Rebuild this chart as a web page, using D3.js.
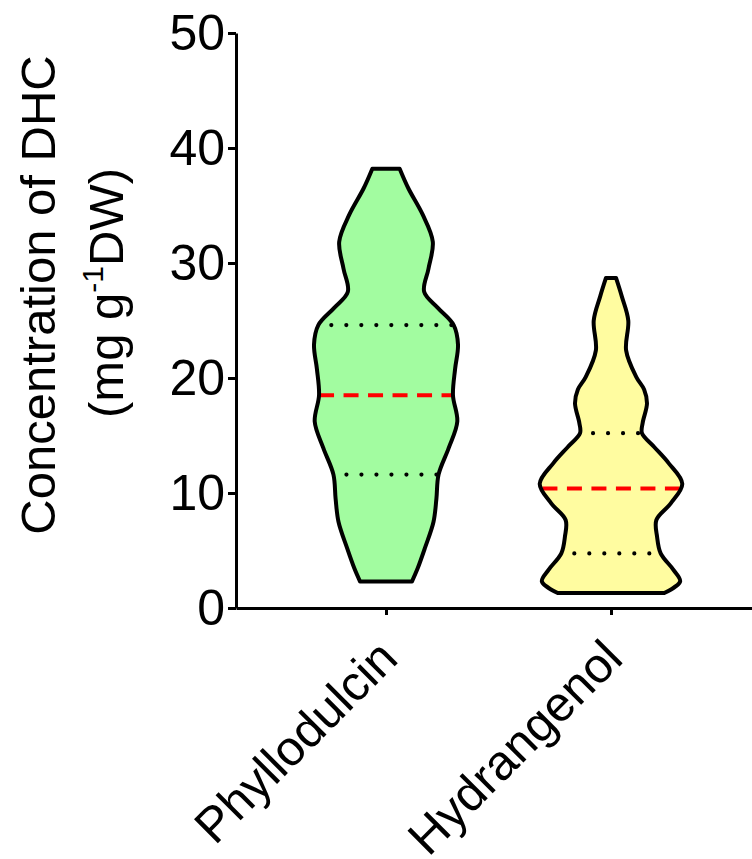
<!DOCTYPE html>
<html>
<head>
<meta charset="utf-8">
<script src="https://cdn.jsdelivr.net/npm/d3@7"></script>
<style>
  html, body { margin: 0; padding: 0; background: #fff; }
  svg { display: block; }
  text { font-family: "Liberation Sans", Arial, Helvetica, sans-serif; fill: #000; }
</style>
</head>
<body>
<svg id="chart" width="752" height="859"></svg>
<script>
// Categories and their fill colours
const categories = ["Phyllodulcin", "Hydrangenol"];
const fills = ["#a2fca0", "#fffca0"];

// Kernel density profiles (relative width) along concentration (mg g-1 DW)
const phylloValues  = [2.3, 3.45, 5.2, 7.5, 9.5, 11.6, 13.9, 16.2, 18.5, 20.8, 22.9, 24.6, 26.1, 27.5, 29.5, 31.85, 34.2, 36.5, 38.2];
const phylloDensity = [0.36, 0.44, 0.54, 0.66, 0.70, 0.73, 0.87, 0.99, 0.93, 0.96, 1.00, 0.94, 0.72, 0.53, 0.59, 0.65, 0.51, 0.31, 0.19];

const hydraValues  = [1.3, 2.3, 3.3, 4.75, 6.2, 7.65, 9.1, 10.8, 12.6, 14.0, 15.2, 16.1, 17.8, 19.0, 20.1, 22.4, 25.0, 27.1, 28.7];
const hydraDensity = [0.74, 0.96, 0.87, 0.69, 0.64, 0.63, 0.83, 0.99, 0.80, 0.60, 0.43, 0.44, 0.50, 0.46, 0.35, 0.21, 0.24, 0.15, 0.07];

// Quartiles per category
const q1Values     = [11.6, 4.75];
const medianValues = [18.5, 10.4];
const q3Values     = [24.6, 15.2];

// Axis ticks
const yTicks = [0, 10, 20, 30, 40, 50];

const profiles = [
  { values: phylloValues, density: phylloDensity },
  { values: hydraValues, density: hydraDensity }
];

const svg = d3.select("#chart");

const y = d3.scaleLinear().domain([0, 50]).range([608, 33]);
const x = d3.scalePoint().domain(categories).range([236, 761]).padding(0.6667);
const w = d3.scaleLinear().domain([0, 1]).range([0, 72]);

// Linear lookup of the profile width at a given concentration
function widthAt(p, v) {
  const i = d3.bisectLeft(p.values, v);
  if (i <= 0) return p.density[0];
  if (i >= p.values.length) return p.density[p.values.length - 1];
  const t = (v - p.values[i - 1]) / (p.values[i] - p.values[i - 1]);
  return p.density[i - 1] + t * (p.density[i] - p.density[i - 1]);
}

// Violins
categories.forEach((cat, ci) => {
  const p = profiles[ci];
  const cx = x(cat);
  const pts = p.values.map((v, i) => ({ v, d: p.density[i] }));
  const area = d3.area()
    .y(d => y(d.v))
    .x0(d => cx - w(d.d))
    .x1(d => cx + w(d.d))
    .curve(d3.curveCatmullRom.alpha(0.5));

  const g = svg.append("g");
  g.append("path")
    .attr("d", area(pts))
    .attr("fill", fills[ci]);

  // median: red dashed
  const hm = w(widthAt(p, medianValues[ci]));
  g.append("line")
    .attr("x1", cx - hm).attr("x2", cx + hm)
    .attr("y1", y(medianValues[ci])).attr("y2", y(medianValues[ci]))
    .attr("stroke", "#ff0000").attr("stroke-width", 4)
    .attr("stroke-dasharray", "15 9.5");

  // quartiles: black dotted
  [q1Values[ci], q3Values[ci]].forEach(q => {
    const hq = w(widthAt(p, q));
    g.append("line")
      .attr("x1", cx - hq + 13).attr("x2", cx + hq - 1)
      .attr("y1", y(q)).attr("y2", y(q))
      .attr("stroke", "#000").attr("stroke-width", 4.2)
      .attr("stroke-linecap", "round")
      .attr("stroke-dasharray", "0 15");
  });

  g.append("path")
    .attr("d", area(pts))
    .attr("fill", "none")
    .attr("stroke", "#000")
    .attr("stroke-width", 4)
    .attr("stroke-linejoin", "round");
});

// Y axis
const yAxis = svg.append("g")
  .attr("transform", "translate(236,0)")
  .call(d3.axisLeft(y).tickValues(yTicks).tickSize(8).tickSizeOuter(0).tickPadding(3));
yAxis.select(".domain").attr("stroke-width", 3);
yAxis.selectAll(".tick line").attr("stroke-width", 3);
yAxis.selectAll(".tick text")
  .attr("font-size", 50)
  .attr("font-family", "Liberation Sans, Arial, sans-serif")
  .attr("fill", "#000");

// X axis
const xAxis = svg.append("g")
  .attr("transform", "translate(0,608)")
  .call(d3.axisBottom(x).tickSize(7).tickSizeOuter(0).tickFormat(""));
xAxis.select(".domain").attr("stroke-width", 3);
xAxis.selectAll(".tick line").attr("stroke-width", 3);

// Rotated category labels
svg.append("g").selectAll("text")
  .data(categories)
  .join("text")
  .attr("transform", d => `translate(${x(d) + 14},661) rotate(-45)`)
  .attr("text-anchor", "end")
  .attr("font-size", 49)
  .text(d => d);

// Y axis title (two lines)
svg.append("text")
  .attr("transform", "translate(55,295) rotate(-90)")
  .attr("text-anchor", "middle")
  .attr("font-size", 49)
  .text("Concentration of DHC");

const t2 = svg.append("text")
  .attr("transform", "translate(123,293) rotate(-90)")
  .attr("text-anchor", "middle")
  .attr("font-size", 49);
t2.append("tspan").text("(mg g");
t2.append("tspan").attr("font-size", 30).attr("dy", -20).text("-1");
t2.append("tspan").attr("dy", 20).text("DW)");
</script>
</body>
</html>
